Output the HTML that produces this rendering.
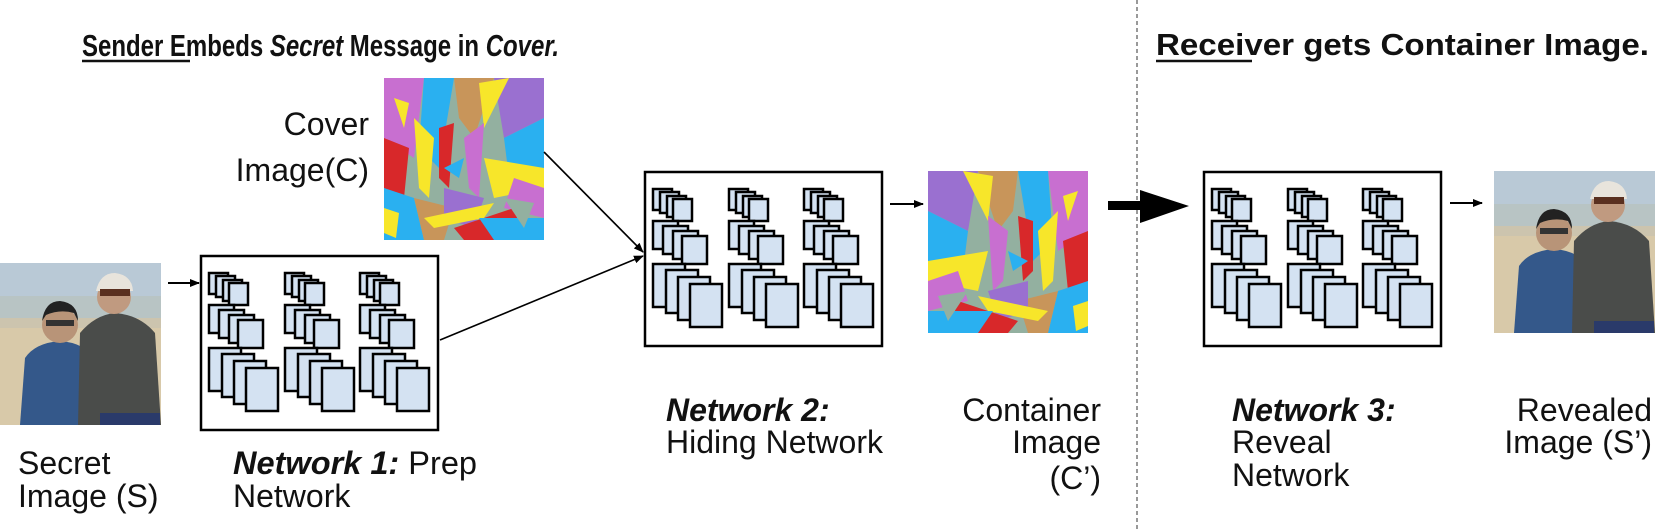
<!DOCTYPE html>
<html><head><meta charset="utf-8"><style>
html,body{margin:0;padding:0;background:#fff;}
svg{display:block;}
text{font-family:"Liberation Sans",Arial,sans-serif;fill:#111;}
</style></head><body>
<svg width="1663" height="529" viewBox="0 0 1663 529" xmlns="http://www.w3.org/2000/svg">
<defs>
  <g id="abs">
    <rect x="0" y="0" width="160" height="162" fill="#93b0a0"/>
    <polygon points="0,0 40,0 30,80 0,60" fill="#c86fd0"/>
    <polygon points="40,0 70,0 55,90 35,70" fill="#2ab0f0"/>
    <polygon points="70,0 110,0 90,60 75,40" fill="#c8955a"/>
    <polygon points="110,0 160,0 160,40 120,60" fill="#9a70d0"/>
    <polygon points="95,5 125,0 100,50" fill="#f7e62a"/>
    <polygon points="0,60 25,70 20,120 0,110" fill="#d8282a"/>
    <polygon points="30,40 50,60 45,120 35,110" fill="#f7e62a"/>
    <polygon points="55,50 70,45 65,110 55,100" fill="#d8282a"/>
    <polygon points="80,60 100,45 95,120 85,110" fill="#c86fd0"/>
    <polygon points="120,60 160,40 160,90 125,100" fill="#2ab0f0"/>
    <polygon points="100,80 160,90 160,110 110,120" fill="#f7e62a"/>
    <polygon points="130,100 160,110 160,140 120,130" fill="#c86fd0"/>
    <polygon points="0,110 30,120 40,162 0,162" fill="#2ab0f0"/>
    <polygon points="0,130 15,135 12,160 0,155" fill="#f7e62a"/>
    <polygon points="30,120 70,130 60,162 40,162" fill="#c8955a"/>
    <polygon points="60,110 100,120 90,150 60,140" fill="#9a70d0"/>
    <polygon points="40,140 110,125 100,140 50,150" fill="#f7e62a"/>
    <polygon points="70,150 130,130 140,162 80,162" fill="#d8282a"/>
    <polygon points="95,140 160,140 160,162 110,162" fill="#2ab0f0"/>
    <polygon points="120,120 150,125 140,150" fill="#93b0a0"/>
    <polygon points="10,20 25,25 20,50" fill="#f7e62a"/>
    <polygon points="60,90 80,80 75,100" fill="#2ab0f0"/>
  </g>
  <g id="photo">
    <rect x="0" y="0" width="161" height="162" fill="#d8c9a9"/>
    <rect x="0" y="0" width="161" height="38" fill="#b9c9d6"/>
    <rect x="0" y="33" width="161" height="26" fill="#b8c4c4"/>
    <rect x="0" y="55" width="161" height="10" fill="#ccc4ae"/>
    <path d="M20,162 L25,95 Q35,80 60,78 Q85,80 92,95 L95,162 Z" fill="#34588a"/>
    <path d="M78,162 L80,70 Q95,52 115,50 Q140,52 155,70 L161,162 Z" fill="#4a4c4a"/>
    <circle cx="60" cy="62" r="18" fill="#b89478"/>
    <path d="M42,58 Q45,38 60,38 Q78,40 78,58 L74,50 Q60,46 46,52 Z" fill="#222"/>
    <rect x="46" y="57" width="28" height="6" fill="#333"/>
    <circle cx="114" cy="34" r="17" fill="#c09a80"/>
    <path d="M96,28 Q100,10 115,10 Q132,12 133,28 Z" fill="#e8e4dc"/>
    <rect x="100" y="26" width="30" height="7" fill="#5a3020"/>
    <rect x="100" y="150" width="60" height="12" fill="#2a3a6a"/>
  </g>
  <g id="stack" fill="#d4e2f2" stroke="#000" stroke-width="2.5">
    <rect x="0" y="0" width="19" height="21"/><rect x="7" y="3" width="19" height="21"/><rect x="14" y="7" width="19" height="21"/><rect x="20" y="10" width="19" height="22"/>
    <rect x="0" y="32" width="25" height="28"/><rect x="10" y="37" width="25" height="28"/><rect x="20" y="42" width="25" height="28"/><rect x="29" y="47" width="25" height="28"/>
    <rect x="0" y="75" width="32" height="43"/><rect x="13" y="81" width="32" height="43"/><rect x="25" y="88" width="32" height="43"/><rect x="37" y="95" width="32" height="43"/>
  </g>
  <g id="net">
    <rect x="0" y="0" width="237" height="174" fill="#fff" stroke="#000" stroke-width="2.5"/>
    <use href="#stack" x="8" y="17"/><use href="#stack" x="84" y="17"/><use href="#stack" x="159" y="17"/>
  </g>
  <marker id="ah" markerWidth="10" markerHeight="8" refX="9" refY="4" orient="auto" markerUnits="userSpaceOnUse">
    <polygon points="0,0 10,4 0,8" fill="#000"/>
  </marker>
</defs>

<!-- titles -->
<text x="82" y="56" font-size="31" font-weight="bold" textLength="477" lengthAdjust="spacingAndGlyphs">Sender Embeds <tspan font-style="italic">Secret</tspan> Message in <tspan font-style="italic">Cover.</tspan></text>
<line x1="82" y1="61" x2="190" y2="61" stroke="#111" stroke-width="2.5"/>
<text x="1156" y="55" font-size="31" font-weight="bold" textLength="493" lengthAdjust="spacingAndGlyphs">Receiver gets Container Image.</text>
<line x1="1156" y1="61" x2="1252" y2="61" stroke="#111" stroke-width="2.5"/>

<line x1="1137" y1="0" x2="1137" y2="529" stroke="#999" stroke-width="2" stroke-dasharray="4,3"/>

<!-- images -->
<use href="#photo" x="0" y="263"/>
<use href="#abs" x="384" y="78"/>
<g transform="translate(928,171)"><use href="#abs" transform="translate(160,0) scale(-1,1)"/></g>
<use href="#photo" x="1494" y="171"/>

<!-- networks -->
<use href="#net" x="201" y="256"/>
<use href="#net" x="645" y="172"/>
<use href="#net" x="1204" y="172"/>

<!-- arrows -->
<line x1="168" y1="283" x2="199" y2="283" stroke="#000" stroke-width="2" marker-end="url(#ah)"/>
<line x1="544" y1="152" x2="643" y2="252" stroke="#000" stroke-width="1.6" marker-end="url(#ah)"/>
<line x1="440" y1="340" x2="643" y2="256" stroke="#000" stroke-width="1.6" marker-end="url(#ah)"/>
<line x1="890" y1="204" x2="923" y2="204" stroke="#000" stroke-width="2" marker-end="url(#ah)"/>
<line x1="1450" y1="203" x2="1482" y2="203" stroke="#000" stroke-width="2" marker-end="url(#ah)"/>
<rect x="1108" y="201" width="34" height="9" fill="#000"/>
<polygon points="1140,190 1189,206 1140,223" fill="#000"/>

<!-- labels -->
<g font-size="32">
<text x="369" y="135" text-anchor="end">Cover</text>
<text x="369" y="181" text-anchor="end">Image(C)</text>
<text x="18" y="474">Secret</text>
<text x="18" y="507">Image (S)</text>
<text x="233" y="474" textLength="244" lengthAdjust="spacingAndGlyphs"><tspan font-weight="bold" font-style="italic">Network 1:</tspan> Prep</text>
<text x="233" y="507">Network</text>
<text x="666" y="421" font-weight="bold" font-style="italic">Network 2:</text>
<text x="666" y="453">Hiding Network</text>
<text x="1101" y="421" text-anchor="end">Container</text>
<text x="1101" y="453" text-anchor="end">Image</text>
<text x="1101" y="489" text-anchor="end">(C’)</text>
<text x="1232" y="421" font-weight="bold" font-style="italic">Network 3:</text>
<text x="1232" y="453">Reveal</text>
<text x="1232" y="486">Network</text>
<text x="1652" y="421" text-anchor="end">Revealed</text>
<text x="1652" y="453" text-anchor="end">Image (S’)</text>
</g>
</svg>
</body></html>
